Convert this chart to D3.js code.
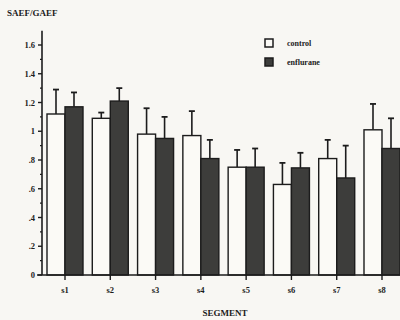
<!DOCTYPE html>
<html>
<head>
<meta charset="utf-8">
<script src="https://cdn.jsdelivr.net/npm/d3@7"></script>
<style>
  html, body { margin: 0; padding: 0; background: #f8f7f3; }
  svg { display: block; font-family: "Liberation Serif", "DejaVu Serif", serif; font-weight: bold; }
</style>
</head>
<body>
<svg id="chart" width="400" height="320"></svg>
<script>
// 데이터
const segments = ["s1", "s2", "s3", "s4", "s5", "s6", "s7", "s8"];
const controlMean = [1.12, 1.09, 0.98, 0.97, 0.75, 0.63, 0.81, 1.01];
const controlErr = [1.29, 1.13, 1.16, 1.14, 0.87, 0.78, 0.94, 1.19];
const enfluraneMean = [1.17, 1.21, 0.95, 0.81, 0.75, 0.745, 0.675, 0.88];
const enfluraneErr = [1.27, 1.30, 1.10, 0.94, 0.88, 0.85, 0.90, 1.09];
const yTicks = [0, 0.2, 0.4, 0.6, 0.8, 1, 1.2, 1.4, 1.6];
const yMinor = d3.range(0.1, 1.7, 0.2);
const series = [
  { name: "control", mean: controlMean, err: controlErr, fill: "#fbfaf6", side: -1 },
  { name: "enflurane", mean: enfluraneMean, err: enfluraneErr, fill: "#3d3d3b", side: 0 },
];

const svg = d3.select("#chart");
const ink = "#1c1c1c";

const x = d3.scalePoint().domain(segments).range([65, 382]); // 카테고리 중심
const y = d3.scaleLinear().domain([0, 1.6]).range([275, 45]);
const barW = 18;

// 막대
series.forEach((s) => {
  const g = svg.append("g");
  segments.forEach((seg, i) => {
    const x0 = x(seg) + s.side * barW;
    const cx = x0 + barW / 2;
    // 오차 막대 (위쪽만)
    g.append("line")
      .attr("x1", cx).attr("x2", cx)
      .attr("y1", y(s.mean[i])).attr("y2", y(s.err[i]))
      .attr("stroke", ink).attr("stroke-width", 1.6);
    g.append("line")
      .attr("x1", cx - 3).attr("x2", cx + 3)
      .attr("y1", y(s.err[i])).attr("y2", y(s.err[i]))
      .attr("stroke", ink).attr("stroke-width", 1.8);
    g.append("rect")
      .attr("x", x0).attr("y", y(s.mean[i]))
      .attr("width", barW).attr("height", y(0) - y(s.mean[i]))
      .attr("fill", s.fill).attr("stroke", ink).attr("stroke-width", 1.4);
  });
});

// y축
svg.append("line")
  .attr("x1", 42).attr("x2", 42).attr("y1", y(0)).attr("y2", y(1.7))
  .attr("stroke", ink).attr("stroke-width", 1.6);
yTicks.forEach((t) => {
  svg.append("line")
    .attr("x1", 38).attr("x2", 42).attr("y1", y(t)).attr("y2", y(t))
    .attr("stroke", ink).attr("stroke-width", 1.4);
  const label = t === 0 ? "0" : t < 1 ? d3.format(".1f")(t).replace(/^0/, "") : d3.format("~g")(t);
  svg.append("text")
    .attr("x", 35).attr("y", y(t) + 3)
    .attr("text-anchor", "end").attr("font-size", 8.5).attr("fill", ink)
    .text(label);
});
yMinor.forEach((t) => {
  svg.append("line")
    .attr("x1", 40).attr("x2", 42).attr("y1", y(t)).attr("y2", y(t))
    .attr("stroke", ink).attr("stroke-width", 1.2);
});

// x축
svg.append("line")
  .attr("x1", 37).attr("x2", 400).attr("y1", y(0)).attr("y2", y(0))
  .attr("stroke", ink).attr("stroke-width", 1.6);
segments.forEach((seg) => {
  svg.append("line")
    .attr("x1", x(seg)).attr("x2", x(seg)).attr("y1", y(0)).attr("y2", y(0) + 5)
    .attr("stroke", ink).attr("stroke-width", 1.4);
  svg.append("text")
    .attr("x", x(seg)).attr("y", y(0) + 18)
    .attr("text-anchor", "middle").attr("font-size", 8.5).attr("fill", ink)
    .text(seg);
});

// 제목 / 축 이름
svg.append("text").attr("x", 7).attr("y", 16).attr("font-size", 9).attr("fill", ink).text("SAEF/GAEF");
svg.append("text").attr("x", 225).attr("y", 316).attr("text-anchor", "middle")
  .attr("font-size", 9).attr("fill", ink).text("SEGMENT");

// 범례
series.forEach((s, i) => {
  const ly = 43 + i * 19;
  svg.append("rect").attr("x", 265).attr("y", ly - 4).attr("width", 8).attr("height", 8)
    .attr("fill", s.fill).attr("stroke", ink).attr("stroke-width", 1.5);
  svg.append("text").attr("x", 287).attr("y", ly + 3).attr("font-size", 8).attr("fill", ink).text(s.name);
});
</script>
</body>
</html>
